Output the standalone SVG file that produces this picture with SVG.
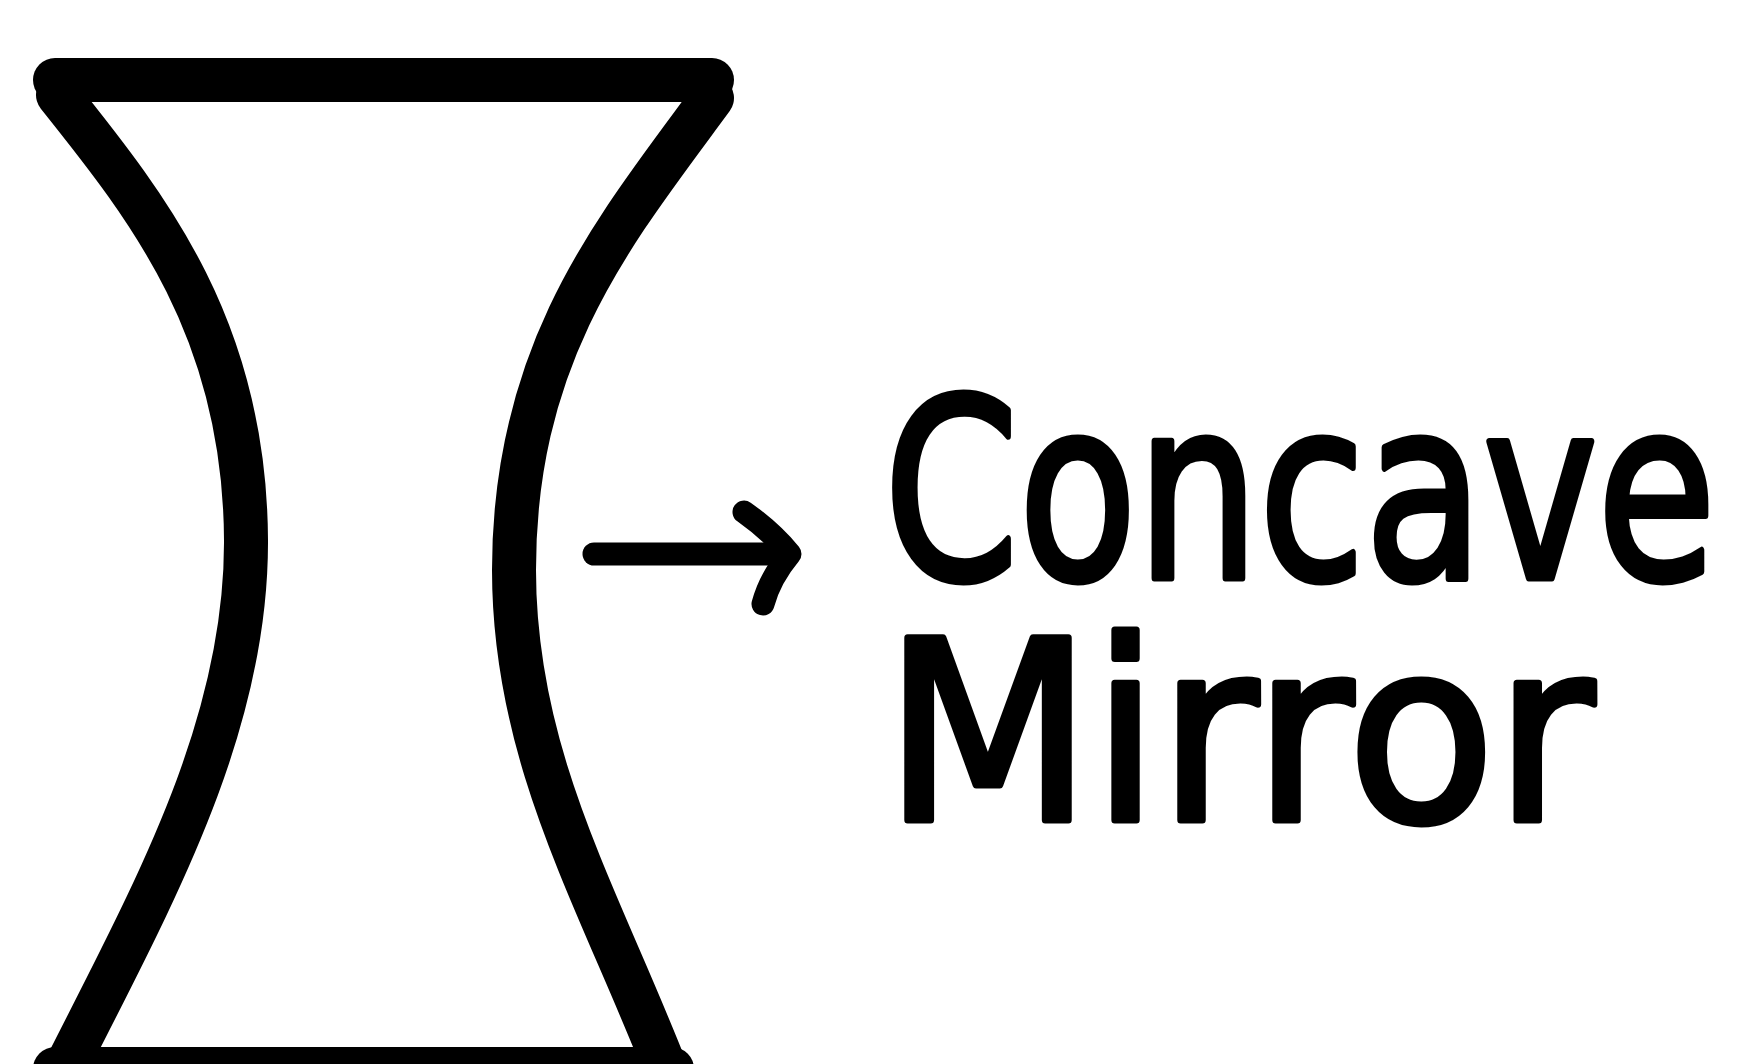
<svg xmlns="http://www.w3.org/2000/svg" width="1750" height="1064" viewBox="0 0 1750 1064">
<style>
.ln{fill:none;stroke:#000;stroke-linecap:round;stroke-linejoin:round}
.lens{stroke-width:44}
.arr{stroke-width:23}
.lbl{font-family:"DejaVu Sans","Liberation Sans",sans-serif;font-size:250px;fill:#000;stroke:#000;stroke-width:7;stroke-linejoin:round}
</style>
<rect width="1750" height="1064" fill="#fff"/>
<g id="lens">
<path class="ln lens" d="M 55 80 L 712 80"/>
<path class="ln lens" d="M 58 95 C 150 210, 245 330, 246 540 C 247 730, 150 900, 62 1075"/>
<path class="ln lens" d="M 712 98 C 615 230, 514 350, 514 570 C 514 760, 600 900, 668 1075"/>
<path class="ln lens" d="M 55 1069 L 672 1069"/>
</g>
<g id="connectors">
<path class="ln arr" d="M 594 554 L 785 554"/>
<path class="ln arr" d="M 744 512 Q 772 532 790 554 Q 770 578 763 604"/>
</g>
<g id="label">
<text class="lbl" x="884" y="578" textLength="832" lengthAdjust="spacingAndGlyphs">Concave</text>
<text class="lbl" x="884" y="820" textLength="710" lengthAdjust="spacingAndGlyphs">Mirror</text>
</g>
</svg>
